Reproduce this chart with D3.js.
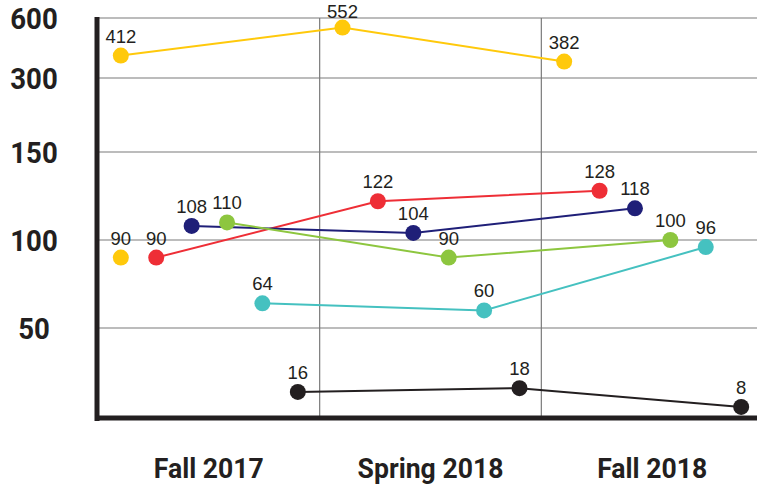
<!DOCTYPE html>
<html>
<head>
<meta charset="utf-8">
<script src="https://cdn.jsdelivr.net/npm/d3@7"></script>
<style>
  body { margin: 0; background: #fff; }
  .tick-lbl { font-family: "Liberation Sans Narrow", "Roboto", sans-serif; font-weight: bold; fill: #231f20; }
  .val { font-family: "Liberation Sans", Arial, sans-serif; font-size: 18.5px; fill: #231f20; }
</style>
</head>
<body>
<svg id="chart" width="757" height="487"></svg>
<script>
// terms on the x axis
var terms = ["Fall 2017", "Spring 2018", "Fall 2018"];
// y tick labels
var yTicks = [50, 100, 150, 300, 600];

// series, one value per term (null = no point)
var seriesNames = ["yellow", "red", "navy", "green", "cyan", "black"];
var yellowVals = [412, 552, 382];
var redVals = [90, 122, 128];
var navyVals = [108, 104, 118];
var greenVals = [110, 90, 100];
var cyanVals = [64, 60, 96];
var blackVals = [16, 18, 8];
// lone yellow dot in the first term
var yellowExtra = [90, null, null];

var colors = {
    yellow: "#ffc90b",
    red: "#ee2e36",
    navy: "#1f1f78",
    green: "#8dc63f",
    cyan: "#45c1c0",
    black: "#231f20"
};

var series = [
    { name: "yellow", vals: yellowVals, line: true },
    { name: "yellow", vals: yellowExtra, line: false },
    { name: "red", vals: redVals, line: true },
    { name: "navy", vals: navyVals, line: true },
    { name: "green", vals: greenVals, line: true },
    { name: "cyan", vals: cyanVals, line: true },
    { name: "black", vals: blackVals, line: true }
];

var svg = d3.select("#chart");

var mLeft = 98, mRight = 763, mTop = 18, mBottom = 418;

// term bands, and series offset inside each band
var x0 = d3.scaleBand().domain(terms).range([mLeft, mRight]);
var x1 = d3.scalePoint().domain(seriesNames).range([-88, 89]);

// the axis is not linear: piecewise between the ticks
var y = d3.scaleLinear()
    .domain([0, 50, 150, 300, 600])
    .range([422, 328, 152, 78, mTop]);

function px(term, name) { return x0(term) + x0.bandwidth() / 2 + x1(name); }

// grid
svg.append("g").selectAll("line")
    .data(yTicks)
    .enter().append("line")
    .attr("x1", mLeft).attr("x2", 757)
    .attr("y1", d => y(d)).attr("y2", d => y(d))
    .attr("stroke", "#7a7a7a").attr("stroke-width", 1.2);

svg.append("g").selectAll("line")
    .data(terms.slice(1))
    .enter().append("line")
    .attr("x1", d => x0(d)).attr("x2", d => x0(d))
    .attr("y1", mTop).attr("y2", mBottom)
    .attr("stroke", "#7a7a7a").attr("stroke-width", 1.2);

// axes (thick black)
svg.append("line")
    .attr("x1", 97).attr("x2", 97).attr("y1", mTop - 1).attr("y2", mBottom + 3)
    .attr("stroke", "#231f20").attr("stroke-width", 5);
svg.append("line")
    .attr("x1", 95).attr("x2", 757).attr("y1", mBottom).attr("y2", mBottom)
    .attr("stroke", "#231f20").attr("stroke-width", 5);

// y tick labels
svg.append("g").selectAll("text")
    .data(yTicks)
    .enter().append("text")
    .attr("class", "tick-lbl")
    .attr("transform", d => "translate(34," + y(d) + ") scale(0.92,1)")
    .attr("dy", "0.36em")
    .attr("text-anchor", "middle")
    .style("font-size", "30px")
    .text(d => d);

// x labels
svg.append("g").selectAll("text")
    .data(terms)
    .enter().append("text")
    .attr("class", "tick-lbl")
    .attr("transform", d => "translate(" + (x0(d) + x0.bandwidth() / 2) + ",478) scale(0.95,1)")
    .attr("text-anchor", "middle")
    .style("font-size", "28px")
    .text(d => d);

// lines, dots, labels
var line = d3.line()
    .defined(d => d.v != null)
    .x(d => d.x).y(d => y(d.v));

series.forEach(s => {
    var pts = s.vals.map((v, i) => ({ v: v, x: px(terms[i], s.name) }))
        .filter(d => d.v != null);
    var g = svg.append("g");
    if (s.line) {
        g.append("path")
            .datum(pts)
            .attr("d", line)
            .attr("fill", "none")
            .attr("stroke", colors[s.name])
            .attr("stroke-width", 2);
    }
    g.selectAll("circle")
        .data(pts)
        .enter().append("circle")
        .attr("cx", d => d.x).attr("cy", d => y(d.v))
        .attr("r", 8)
        .attr("fill", colors[s.name]);
    g.selectAll("text")
        .data(pts)
        .enter().append("text")
        .attr("class", "val")
        .attr("x", d => d.x)
        .attr("y", d => Math.max(y(d.v) - 13, 18)) // keep the top label inside
        .attr("text-anchor", "middle")
        .text(d => d.v);
});
</script>
</body>
</html>
